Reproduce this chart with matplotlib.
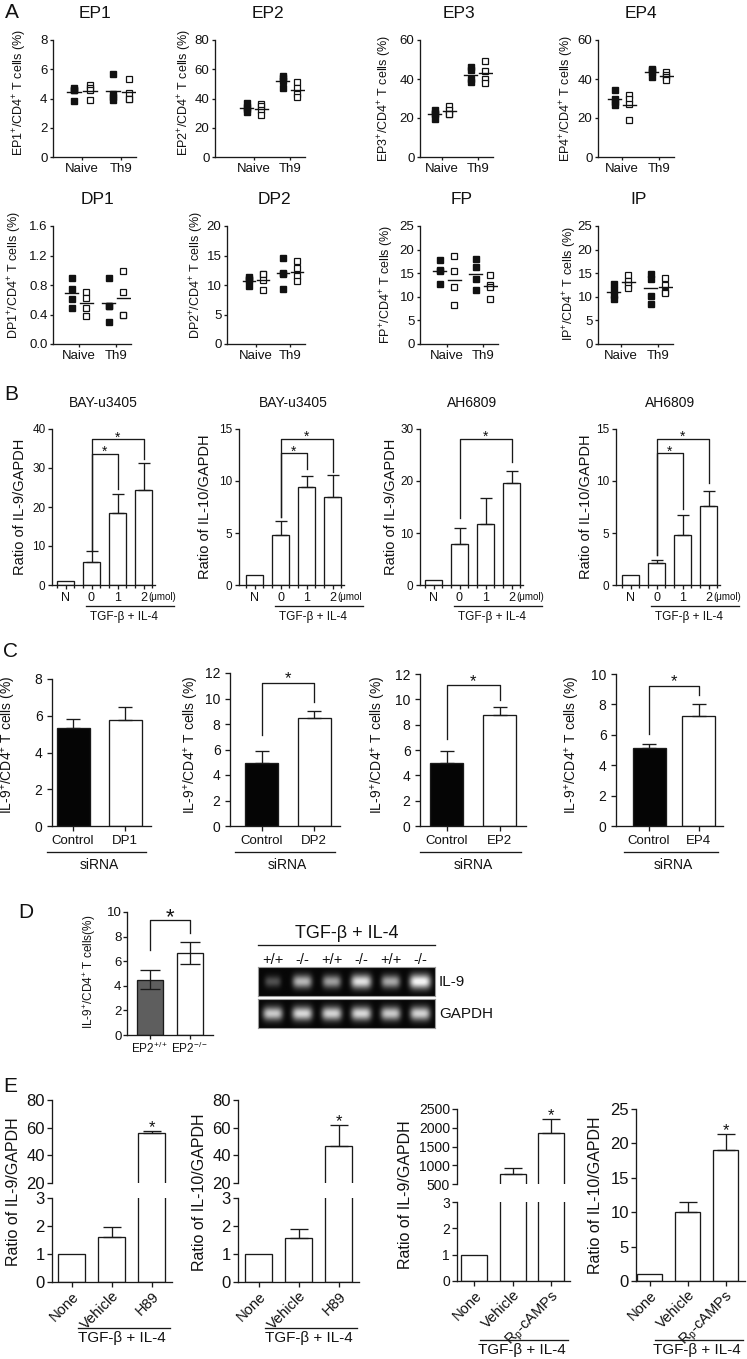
import numpy as np
import matplotlib
matplotlib.use('Agg')
import matplotlib.pyplot as plt

W, H = 747, 1359
plt.rcParams.update({
    'font.family': ['Liberation Sans', 'DejaVu Sans'],
    'mathtext.fontset': 'custom',
    'mathtext.rm': 'Liberation Sans',
    'mathtext.it': 'Liberation Sans:italic',
    'mathtext.bf': 'Liberation Sans:bold',
    'mathtext.default': 'regular',
})
LC = '#1a1a1a'
TC = '#111111'
LW = 0.95

# ---------------- data : panel A (column scatter) ----------------
A_groups = ['Naive', 'Th9']
A_receptors = ['EP1', 'EP2', 'EP3', 'EP4', 'DP1', 'DP2', 'FP', 'IP']
A_ymax = [8, 80, 60, 60, 1.6, 20, 25, 25]
A_ystep = [2, 20, 20, 20, 0.4, 5, 5, 5]

EP1_naive_filled = [4.7, 4.6, 4.6, 3.8]
EP1_naive_open = [4.9, 4.7, 4.6, 3.9]
EP1_th9_filled = [5.7, 4.3, 4.1, 3.9]
EP1_th9_open = [5.3, 4.4, 4.0, 3.95]
EP2_naive_filled = [37.0, 34.0, 33.0, 31.0]
EP2_naive_open = [35.9, 34.7, 32.0, 29.0]
EP2_th9_filled = [55.3, 53.7, 51.9, 47.5]
EP2_th9_open = [51.2, 47.5, 43.4, 40.7]
EP3_naive_filled = [24.0, 22.8, 22.0, 19.7]
EP3_naive_open = [26.0, 24.0, 22.3, 21.8]
EP3_th9_filled = [46.0, 44.6, 39.8, 38.6]
EP3_th9_open = [49.2, 44.2, 39.8, 38.2]
EP4_naive_filled = [34.6, 29.7, 28.3, 26.9]
EP4_naive_open = [32.0, 29.5, 27.0, 19.1]
EP4_th9_filled = [44.9, 44.6, 43.7, 41.1]
EP4_th9_open = [43.7, 42.0, 41.1, 39.4]
DP1_naive_filled = [0.90, 0.74, 0.61, 0.49]
DP1_naive_open = [0.71, 0.62, 0.49, 0.38]
DP1_th9_filled = [0.90, 0.51, 0.51, 0.30]
DP1_th9_open = [0.99, 0.70, 0.39, 0.39]
DP2_naive_filled = [11.3, 11.0, 10.8, 9.8]
DP2_naive_open = [11.8, 11.8, 10.9, 9.2]
DP2_th9_filled = [14.6, 12.0, 11.9, 9.3]
DP2_th9_open = [14.0, 12.9, 11.5, 10.6]
FP_naive_filled = [17.8, 15.6, 15.4, 12.8]
FP_naive_open = [18.6, 15.4, 12.1, 8.3]
FP_th9_filled = [18.1, 16.3, 13.8, 11.4]
FP_th9_open = [14.7, 12.4, 12.1, 9.6]
IP_naive_filled = [12.8, 11.5, 10.4, 9.6]
IP_naive_open = [14.7, 13.3, 12.4, 11.9]
IP_th9_filled = [14.8, 13.8, 10.2, 8.5]
IP_th9_open = [14.0, 12.4, 11.0, 10.8]

# ---------------- data : panel B ----------------
B_titles = ['BAY-u3405', 'BAY-u3405', 'AH6809', 'AH6809']
B_ylabels = ['Ratio of IL-9/GAPDH', 'Ratio of IL-10/GAPDH', 'Ratio of IL-9/GAPDH', 'Ratio of IL-10/GAPDH']
B_groups = ['N', '0', '1', '2']
B_units = ['(\u03bcmol)', '(\u03bcmol', '(\u03bcmol)', '(\u03bcmol)']
B_ymax = [40, 15, 30, 15]
B_ystep = [10, 5, 10, 5]
B1_mean = [1.0, 6.0, 18.4, 24.4]
B1_err = [0, 2.6, 5.0, 6.9]
B2_mean = [1.0, 4.84, 9.4, 8.5]
B2_err = [0, 1.36, 1.1, 2.1]
B3_mean = [1.0, 7.8, 11.7, 19.7]
B3_err = [0, 3.2, 5.1, 2.2]
B4_mean = [1.0, 2.13, 4.84, 7.6]
B4_err = [0, 0.27, 1.86, 1.46]
# brackets: (from, to, height, left leg end, right leg end)
B1_sig = [(1, 3, 37.4, 8.8, 32.4), (1, 2, 33.7, 8.8, 24.7)]
B2_sig = [(1, 3, 14.06, 6.55, 10.9), (1, 2, 12.68, 6.55, 11.2)]
B3_sig = [(1, 3, 28.1, 12.8, 23.7)]
B4_sig = [(1, 3, 14.06, 2.84, 9.77), (1, 2, 12.68, 2.84, 7.35)]

# ---------------- data : panel C ----------------
C_targets = ['DP1', 'DP2', 'EP2', 'EP4']
C_ymax = [8, 12, 12, 10]
C_control = [5.35, 4.95, 4.95, 5.15]
C_control_err = [0.45, 0.95, 0.95, 0.25]
C_sirna = [5.75, 8.5, 8.8, 7.25]
C_sirna_err = [0.75, 0.5, 0.6, 0.75]
C_sig = [None, (0, 1, 11.2, 7.1, 9.7), (0, 1, 11.1, 6.85, 9.95), (0, 1, 9.2, 6.05, 8.6)]

# ---------------- data : panel D ----------------
D_groups = ['EP2$^{+/+}$', 'EP2$^{-/-}$']
D_mean = [4.5, 6.7]
D_err = [0.8, 0.9]
D_sig = (0, 1, 9.35, 6.9, 8.3)
gel_lanes = ['+/+', '-/-', '+/+', '-/-', '+/+', '-/-']
gel_il9 = [0.30, 0.72, 0.62, 0.90, 0.66, 1.00]
gel_gapdh = [0.80, 0.86, 0.84, 0.86, 0.80, 0.84]

# ---------------- data : panel E ----------------
E_groups_h89 = ['None', 'Vehicle', 'H89']
E_groups_rp = ['None', 'Vehicle', 'R$_p$-cAMPs']
E_ylabels = ['Ratio of IL-9/GAPDH', 'Ratio of IL-10/GAPDH', 'Ratio of IL-9/GAPDH', 'Ratio of IL-10/GAPDH']
E1_mean = [1.0, 1.6, 56.5]
E1_err = [0, 0.38, 1.4]
E2_mean = [1.0, 1.58, 46.9]
E2_err = [0, 0.32, 15.1]
E3_mean = [1.0, 768, 1857]
E3_err = [0, 152, 375]
E4_mean = [0.97, 9.97, 19.07]
E4_err = [0, 1.53, 2.33]

# ---------------- helpers ----------------
fig = plt.figure(figsize=(W / 100, H / 100), dpi=100)
fig.patch.set_facecolor('white')


def px_ax(x0, y0, x1, y1):
    return fig.add_axes([x0 / W, 1 - y1 / H, (x1 - x0) / W, (y1 - y0) / H])


def ftext(x, y, s, **kw):
    kw.setdefault('ha', 'center')
    kw.setdefault('va', 'center')
    kw.setdefault('color', TC)
    return fig.text(x / W, 1 - y / H, s, **kw)


def prism(ax, fs, tl=3.0, pad=1.5, bottom=True):
    for s in ('top', 'right'):
        ax.spines[s].set_visible(False)
    for s in ('left', 'bottom'):
        ax.spines[s].set_linewidth(LW)
        ax.spines[s].set_color(LC)
    ax.tick_params(direction='out', length=tl, width=LW, color=LC,
                   labelsize=fs, pad=pad, labelcolor=TC)
    if not bottom:
        ax.spines['bottom'].set_visible(False)
        ax.tick_params(axis='x', which='both', bottom=False, labelbottom=False)
    ax.patch.set_visible(False)


def ax_h(ax):
    return ax.get_position().height * H


def under(ax, x0, x1, dy_px):
    y = -dy_px / ax_h(ax)
    ax.plot([x0, x1], [y, y], transform=ax.get_xaxis_transform(),
            color=LC, lw=LW, clip_on=False)


def under_text(ax, x, dy_px, s, **kw):
    ax.text(x, -dy_px / ax_h(ax), s, transform=ax.get_xaxis_transform(),
            ha='center', va='center', color=TC, clip_on=False, **kw)


def star(ax, x, y, fs, dy=0.0):
    ax.annotate('*', (x, y), xytext=(0, dy), textcoords='offset points',
                ha='center', va='baseline', fontsize=fs, color=TC,
                annotation_clip=False)


def bracket(ax, spec, xs, fs, dy):
    i, j, h, y0, y1 = spec
    x0, x1 = xs[i], xs[j]
    ax.plot([x0, x0, x1, x1], [y0, h, h, y1], color=LC, lw=LW,
            clip_on=False, zorder=4)
    star(ax, (x0 + x1) / 2, h, fs, dy)


def bar_set(ax, x, vals, errs, w, colors, cap, both=False):
    x = np.asarray(x, float)
    vals = np.asarray(vals, float)
    errs = np.asarray(errs, float)
    ax.bar(x, vals, width=w, color=colors, edgecolor=LC, linewidth=LW, zorder=2)
    m = errs > 0
    lo = errs[m] if both else np.zeros(int(m.sum()))
    ax.errorbar(x[m], vals[m], yerr=[lo, errs[m]], fmt='none', ecolor=LC,
                elinewidth=LW, capsize=cap, capthick=LW, zorder=3)


# ---------------- panel A ----------------
A_data = {
    'EP1': (EP1_naive_filled, EP1_naive_open, EP1_th9_filled, EP1_th9_open),
    'EP2': (EP2_naive_filled, EP2_naive_open, EP2_th9_filled, EP2_th9_open),
    'EP3': (EP3_naive_filled, EP3_naive_open, EP3_th9_filled, EP3_th9_open),
    'EP4': (EP4_naive_filled, EP4_naive_open, EP4_th9_filled, EP4_th9_open),
    'DP1': (DP1_naive_filled, DP1_naive_open, DP1_th9_filled, DP1_th9_open),
    'DP2': (DP2_naive_filled, DP2_naive_open, DP2_th9_filled, DP2_th9_open),
    'FP': (FP_naive_filled, FP_naive_open, FP_th9_filled, FP_th9_open),
    'IP': (IP_naive_filled, IP_naive_open, IP_th9_filled, IP_th9_open),
}
# spine x, naive x, th9 x, top y, bottom y, title x, title y, ylabel x, ylabel y
A_layout = [
    (53, 82, 121, 40, 157, 95, 13, 20, 92),
    (215, 254, 290, 40, 157, 268, 13, 185, 92),
    (420, 442, 478, 40, 157, 459, 13, 385, 98),
    (598, 622, 659, 40, 157, 641, 13, 567, 98),
    (53, 79, 116, 226, 344, 97, 200, 15, 275),
    (227, 256, 290, 226, 344, 274, 200, 197, 275),
    (420, 447, 483, 226, 344, 462, 200, 387, 284),
    (598, 621, 658, 226, 344, 639, 200, 570, 283),
]
for k, name in enumerate(A_receptors):
    spine, nx, tx, top, bot, tix, tiy, ylx, yly = A_layout[k]
    fn, on, ft, ot = A_data[name]
    unit = tx - nx
    xl = 1 - (nx - spine) / unit
    xr = 2 + 15 / unit
    ax = px_ax(spine, top, spine + (xr - xl) * unit, bot)
    prism(ax, 9.5, tl=2.4, pad=1.6)
    for g, (f, o) in enumerate(((fn, on), (ft, ot))):
        xc = g + 1
        ax.plot(np.full(len(f), xc - 0.2), f, 's', ms=4.5, color='#111',
                mec='#111', clip_on=False, zorder=3)
        ax.plot(np.full(len(o), xc + 0.2), o, 's', ms=4.2, mfc='white',
                mec='#111', mew=0.9, clip_on=False, zorder=3)
        for xx, v in ((xc - 0.2, f), (xc + 0.2, o)):
            ax.plot([xx - 0.18, xx + 0.18], [np.mean(v)] * 2, color='#111',
                    lw=1.0, zorder=4)
    ax.set_xlim(xl, xr)
    ax.set_ylim(0, A_ymax[k])
    yt = np.arange(0, A_ymax[k] + 1e-9, A_ystep[k])
    fmt = '{:.1f}' if A_ystep[k] < 1 else '{:g}'
    ax.set_yticks(yt, [fmt.format(v) for v in yt])
    ax.set_xticks([1, 2], A_groups)
    ftext(tix, tiy, name, fontsize=12.5)
    ftext(ylx, yly, f'{name}$^{{+}}$/CD4$^{{+}}$ T cells (%)', fontsize=9, rotation=90)

ftext(12, 12, 'A', fontsize=15)

# ---------------- panel B ----------------
B_means = [B1_mean, B2_mean, B3_mean, B4_mean]
B_errs = [B1_err, B2_err, B3_err, B4_err]
B_sigs = [B1_sig, B2_sig, B3_sig, B4_sig]
B_layout = [(52, 65.5, 103, 20), (239, 254.5, 293, 205), (420, 433.5, 472, 391), (616, 630.5, 670, 586)]
B_sp = 26.0
B_w = 17 / 26
for k in range(4):
    spine, c0, tix, ylx = B_layout[k]
    xl = -(c0 - spine) / B_sp
    xr = 3.45
    ax = px_ax(spine, 429, spine + (xr - xl) * B_sp, 585)
    prism(ax, 8.5, tl=3.2, pad=1.5)
    x = np.arange(len(B_groups))
    bar_set(ax, x, B_means[k], B_errs[k], B_w, 'white', 4.6)
    ax.set_xlim(xl, xr)
    ax.set_ylim(0, B_ymax[k])
    ax.set_yticks(np.arange(0, B_ymax[k] + 1e-9, B_ystep[k]))
    ax.set_xticks(x, B_groups, fontsize=9)
    ax.set_xticks(np.concatenate([x - B_w / 2, x + B_w / 2]), minor=True)
    ax.tick_params(axis='x', which='minor', length=2.0, width=LW, color=LC)
    for spec in B_sigs[k]:
        bracket(ax, spec, x, 10, -1.6)
    ax.text(3 + 0.2, -12 / ax_h(ax), B_units[k], transform=ax.get_xaxis_transform(),
            fontsize=7, ha='left', va='center', color=TC, clip_on=False)
    under(ax, 0.78, 4.17, 21)
    under_text(ax, 2.25, 32, 'TGF-\u03b2 + IL-4', fontsize=8.5)
    ftext(tix, 403, B_titles[k], fontsize=10)
    ftext(ylx, 507, B_ylabels[k], fontsize=10.5, rotation=90)

ftext(11, 394, 'B', fontsize=15)

# ---------------- panel C ----------------
# spine x, first bar x, spacing, top y, ylabel x
C_layout = [(52, 73, 52, 679, 9), (230, 261.5, 52.5, 673, 192), (420, 446.5, 53, 674, 378), (616, 649, 49.5, 674, 573)]
for k in range(4):
    spine, c0, sp, top, ylx = C_layout[k]
    xl = -(c0 - spine) / sp
    xr = 1.5
    ax = px_ax(spine, top, spine + (xr - xl) * sp, 826)
    prism(ax, 10, tl=3.6, pad=3.2)
    x = np.arange(2)
    bar_set(ax, x, [C_control[k], C_sirna[k]], [C_control_err[k], C_sirna_err[k]],
            33 / sp, ['#050505', 'white'], 5.3)
    ax.set_xlim(xl, xr)
    ax.set_ylim(0, C_ymax[k])
    ax.set_yticks(np.arange(0, C_ymax[k] + 1e-9, 2))
    ax.set_xticks(x, ['Control', C_targets[k]], fontsize=9.5)
    if C_sig[k] is not None:
        bracket(ax, C_sig[k], x, 12, -0.3)
    under(ax, -0.5, 1.4, 26)
    under_text(ax, 0.5, 39, 'siRNA', fontsize=10)
    ftext(ylx, 745, 'IL-9$^{+}$/CD4$^{+}$ T cells (%)', fontsize=10, rotation=90)

ftext(10, 652, 'C', fontsize=15)

# ---------------- panel D ----------------
sp = 40.0
xl, xr = -(150 - 127) / sp, 1.575
ax = px_ax(127, 912, 127 + (xr - xl) * sp, 1035)
prism(ax, 9.5, tl=3.0, pad=1.0)
x = np.arange(2)
bar_set(ax, x, D_mean, D_err, 26 / sp, ['#5e5e5e', 'white'], 7.0, both=True)
ax.set_xlim(xl, xr)
ax.set_ylim(0, 10)
ax.set_yticks(np.arange(0, 10.1, 2))
ax.set_xticks(x, D_groups, fontsize=8.5)
bracket(ax, D_sig, x, 16, -2.0)
ftext(90, 972, 'IL-9$^{+}$/CD4$^{+}$ T cells(%)', fontsize=8.5, rotation=90)
ftext(26, 912, 'D', fontsize=15)


def gel_row(ax, bands):
    n = len(bands)
    xs = np.linspace(0, n, 720)
    ys = np.linspace(0, 1, 120)
    X, Y = np.meshgrid(xs, ys)
    img = np.full_like(X, 0.03)
    for i, b in enumerate(bands):
        sx = 0.24 + 0.12 * b
        sy = 0.17 + 0.08 * b
        img += b * np.exp(-((X - (i + 0.5)) / sx) ** 4 - ((Y - 0.5) / sy) ** 2)
    ax.imshow(np.clip(img, 0, 1), cmap='gray', vmin=0, vmax=1.05,
              extent=(0, n, 0, 1), aspect='auto', interpolation='bilinear')
    ax.set_xlim(0, n)
    ax.set_ylim(0, 1)
    ax.set_xticks([])
    ax.set_yticks([])
    for s in ax.spines.values():
        s.set_color('#9a9a9a')
        s.set_linewidth(0.8)


g1 = px_ax(258, 967, 435, 996)
gel_row(g1, gel_il9)
g2 = px_ax(258, 999, 435, 1028)
gel_row(g2, gel_gapdh)
nl = len(gel_lanes)
for i, lab in enumerate(gel_lanes):
    g1.text((i + 0.5) / nl, 1.0 + 7 / 29, lab, transform=g1.transAxes, ha='center',
            va='center', fontsize=10.5, color=TC, clip_on=False)
g1.plot([0, 1], [1 + 22 / 29] * 2, transform=g1.transAxes, color=LC, lw=LW, clip_on=False)
ftext(347, 933, 'TGF-\u03b2 + IL-4', fontsize=13)
ftext(439, 982, 'IL-9', fontsize=11, ha='left')
ftext(439, 1014, 'GAPDH', fontsize=11, ha='left')

# ---------------- panel E ----------------
E_means = [E1_mean, E2_mean, E3_mean, E4_mean]
E_errs = [E1_err, E2_err, E3_err, E4_err]
E_labels = [E_groups_h89, E_groups_h89, E_groups_rp, E_groups_rp]
# spine, first bar x, spacing, bar width, upper box, lower box, upper ylim, upper ticks, tick fs, ylabel pos, underline dy
E_layout = [
    (52, 71.5, 40.0, 27.5, (1100, 1183), (1198, 1282), (20, 80), [20, 40, 60, 80], 12, (14, 1192), 46),
    (238, 258.5, 40.0, 27.0, (1100, 1183), (1198, 1282), (20, 80), [20, 40, 60, 80], 12, (199, 1192), 46),
    (457, 474.5, 38.3, 26.0, (1109, 1184), (1202, 1281), (500, 2500), [500, 1000, 1500, 2000, 2500], 10, (405, 1195), 59),
    (636, 649.5, 38.0, 25.5, None, (1109, 1281), None, None, 12, (595, 1195), 59),
]
for k in range(4):
    spine, c0, sp, bw, ub, lb, ulim, uticks, tfs, (ylx, yly), udy = E_layout[k]
    xl = -(c0 - spine) / sp
    xr = 2.5
    x1 = spine + (xr - xl) * sp
    x = np.arange(3)
    low = px_ax(spine, lb[0], x1, lb[1])
    prism(low, tfs, tl=3.6, pad=1.5)
    bar_set(low, x, E_means[k], E_errs[k], bw / sp, 'white', 6.8)
    low.set_xlim(xl, xr)
    if ub is not None:
        low.set_ylim(0, 3)
        low.set_yticks([0, 1, 2, 3])
        up = px_ax(spine, ub[0], x1, ub[1])
        prism(up, tfs, tl=3.6, pad=1.5, bottom=False)
        bar_set(up, x, E_means[k], E_errs[k], bw / sp, 'white', 6.8)
        up.set_xlim(xl, xr)
        up.set_ylim(*ulim)
        up.set_yticks(uticks)
        sax = up
    else:
        low.set_ylim(0, 25)
        low.set_yticks(np.arange(0, 26, 5))
        sax = low
    star(sax, x[2], E_means[k][2] + E_errs[k][2], 12, -1.0)
    low.set_xticks(x, E_labels[k], fontsize=10.5, rotation=45, ha='right',
                   rotation_mode='anchor')
    under(low, 0.15, 2.45, udy)
    under_text(low, 1.25, udy + 10, 'TGF-\u03b2 + IL-4', fontsize=11)
    ftext(ylx, yly, E_ylabels[k], fontsize=11.5, rotation=90)

ftext(10, 1087, 'E', fontsize=15)

fig.savefig('out.png', dpi=100, facecolor='white')
